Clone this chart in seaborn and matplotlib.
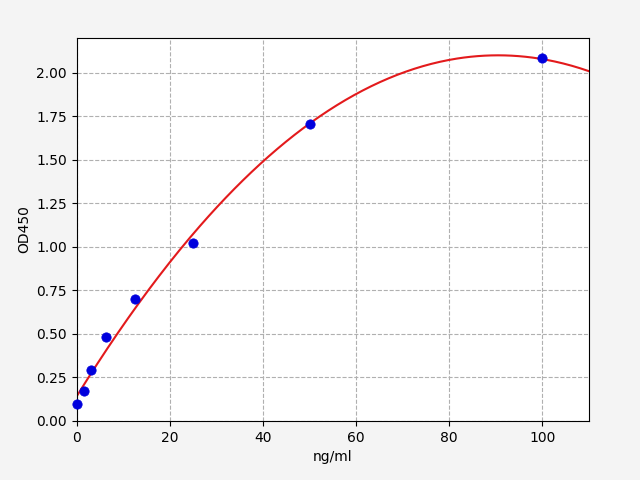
import numpy as np
import matplotlib
matplotlib.use("Agg")
import matplotlib.pyplot as plt
import seaborn as sns

conc = [0, 1.56, 3.125, 6.25, 12.5, 25, 50, 100]
od = [0.095, 0.17, 0.29, 0.48, 0.70, 1.02, 1.705, 2.085]
# quadratic standard-curve coefficients
coef = [-0.000239, 0.04326, 0.1425]

fig, ax = plt.subplots(figsize=(6.4, 4.8), dpi=100)
fig.subplots_adjust(left=0.12, right=0.92, top=0.921, bottom=0.123)
fig.patch.set_facecolor("#f4f4f4")
xs = np.linspace(0, 110, 300)
sns.lineplot(x=xs, y=np.polyval(coef, xs), color="#e31a1c", ax=ax, zorder=2)
sns.scatterplot(x=conc, y=od, color="#0000dd", s=45, edgecolor="#0000dd", ax=ax, zorder=3, clip_on=False)
ax.set_xlim(0, 110)
ax.set_ylim(0, 2.2)
ax.set_yticks(np.arange(0, 2.01, 0.25))
ax.grid(True, linestyle="--", color="#b0b0b0")
ax.set_axisbelow(True)
ax.set_xlabel("ng/ml")
ax.set_ylabel("OD450")
fig.savefig("out.png")
